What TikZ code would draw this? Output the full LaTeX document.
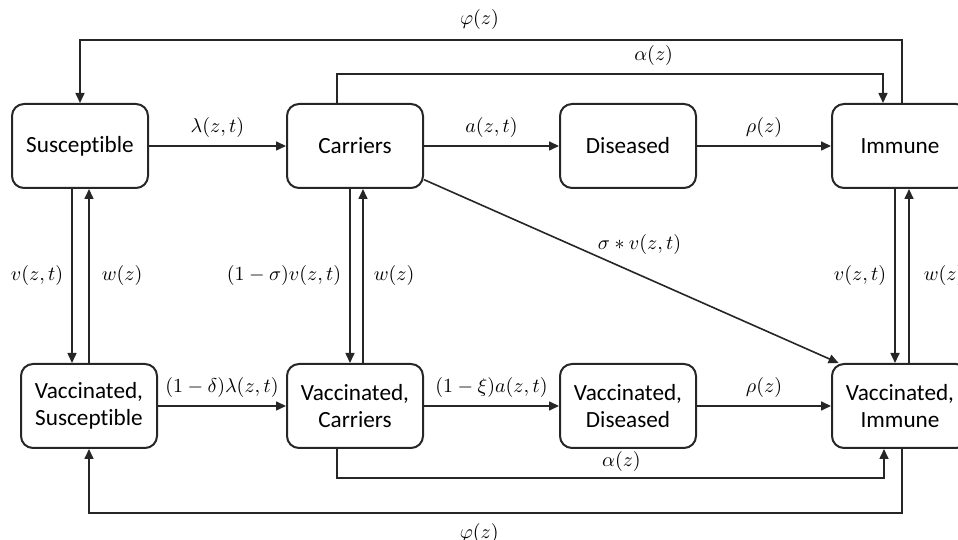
\documentclass[tikz,border=0pt]{standalone}
\usepackage{amsmath,amssymb}
\usepackage{fontspec}
\setmainfont[Ligatures=NoCommon]{Carlito}
\usepackage{xcolor}
\usetikzlibrary{positioning,arrows.meta}

\begin{document}
\begin{tikzpicture}[x=0.5pt, y=0.5pt,
    compartment/.style={draw=black!85, rounded corners=6pt, line width=1pt,
      minimum width=68pt, minimum height=42pt, align=center,
      font=\fontsize{11.6}{13.5}\selectfont},
    flow/.style={-{Triangle[length=5pt,width=4.5pt]}, line width=0.8pt,
      draw=black!85},
    lbl/.style={font=\fontsize{10.3}{12}\selectfont, inner sep=2pt},
  ]
  \useasboundingbox (0,0) rectangle (958,540);

  % Compartments, unvaccinated row
  \node[compartment] (sus) at (80,394) {Susceptible};
  \node[compartment] (car) at (355,394) {Carriers};
  \node[compartment] (dis) at (628,394) {Diseased};
  \node[compartment] (imm) at (900,394) {Immune};

  % Compartments, vaccinated row
  \node[compartment] (vsus) at (89,134) {Vaccinated,\\Susceptible};
  \node[compartment] (vcar) at (355,134) {Vaccinated,\\Carriers};
  \node[compartment] (vdis) at (628,134) {Vaccinated,\\Diseased};
  \node[compartment] (vimm) at (900,134) {Vaccinated,\\Immune};

  % Horizontal flows
  \draw[flow] (sus) -- node[lbl, above=2pt] {$\lambda(z,t)$} (car);
  \draw[flow] (car) -- node[lbl, above=2pt] {$a(z,t)$} (dis);
  \draw[flow] (dis) -- node[lbl, above=2pt] {$\rho(z)$} (imm);
  \draw[flow] (vsus) -- node[lbl, above=2pt] {$(1-\delta)\lambda(z,t)$} (vcar);
  \draw[flow] (vcar) -- node[lbl, above=2pt] {$(1-\xi)a(z,t)$} (vdis);
  \draw[flow] (vdis) -- node[lbl, above=2pt] {$\rho(z)$} (vimm);

  % Vaccination and waning
  \draw[flow] ([xshift=-4pt]sus.south) -- ([xshift=-4pt]sus.south |- vsus.north)
    node[lbl, midway, left=2pt] {$v(z,t)$};
  \draw[flow] (vsus.north) -- (vsus.north |- sus.south)
    node[lbl, midway, right=4pt] {$w(z)$};
  \draw[flow] ([xshift=-2.5pt]car.south) -- ([xshift=-2.5pt]car.south |- vcar.north)
    node[lbl, midway, left=2pt] {$(1-\sigma)v(z,t)$};
  \draw[flow] ([xshift=4pt]vcar.north) -- ([xshift=4pt]vcar.north |- car.south)
    node[lbl, midway, right=3pt] {$w(z)$};
  \draw[flow] ([xshift=-2.5pt]imm.south) -- ([xshift=-2.5pt]imm.south |- vimm.north)
    node[lbl, midway, left=2pt] {$v(z,t)$};
  \draw[flow] ([xshift=4.5pt]vimm.north) -- ([xshift=4.5pt]vimm.north |- imm.south)
    node[lbl, midway, right=5pt] {$w(z)$};

  % Carriers vaccinated straight to immunity
  \draw[flow] (car.-26) -- node[lbl, pos=0.52, above=8pt] {$\sigma * v(z,t)$} (vimm.145);

  % Clearance of carriage
  \draw[flow] ([xshift=-9pt]car.north) -- ++(0,29) -| ([xshift=-8.5pt]imm.north)
    node[lbl, pos=0.29, above=2pt] {$\alpha(z)$};
  \draw[flow] ([xshift=-9pt]vcar.south) -- ++(0,-29) -| ([xshift=-8pt]vimm.south)
    node[lbl, pos=0.26, above=1pt] {$\alpha(z)$};

  % Loss of immunity
  \draw[flow] ([xshift=1pt]imm.north) -- ++(0,63) -| (sus.north)
    node[lbl, pos=0.257, above=3pt] {$\varphi(z)$};
  \draw[flow] ([xshift=1pt]vimm.south) -- ++(0,-64) -| (vsus.south)
    node[lbl, pos=0.26, below=3pt] {$\varphi(z)$};
\end{tikzpicture}
\end{document}
